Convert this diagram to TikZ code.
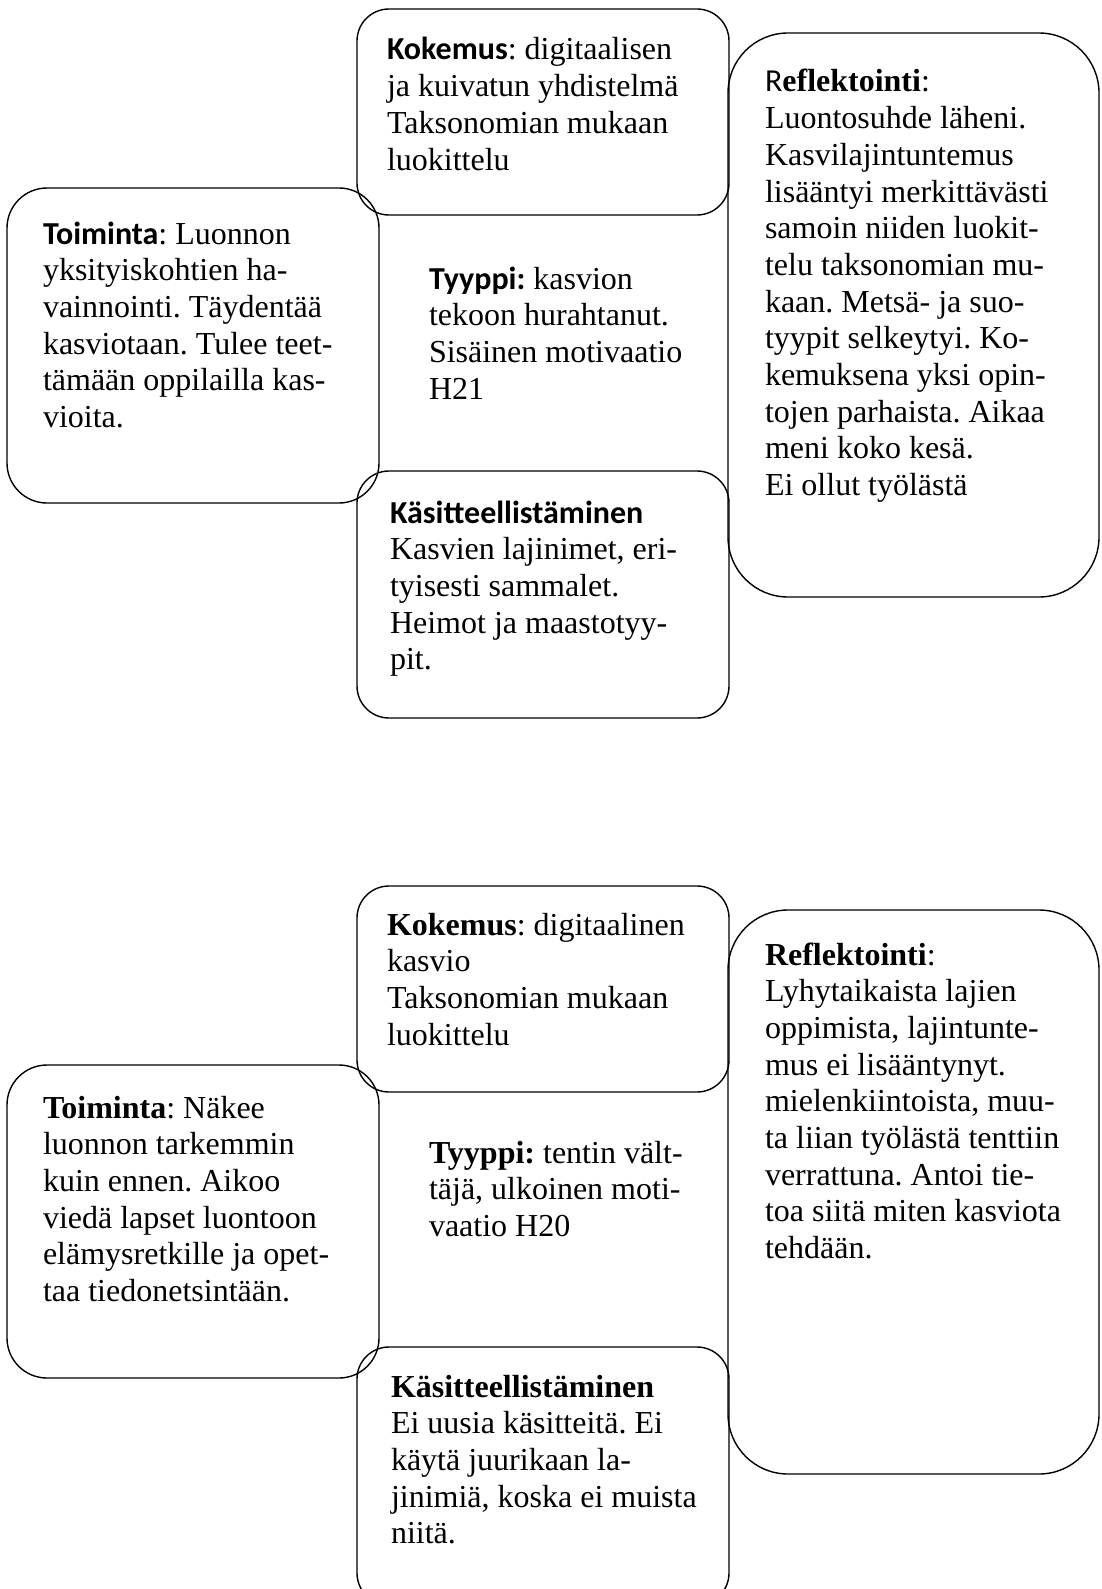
\documentclass[tikz,border=0pt]{standalone}
\usepackage{fontspec}
\setmainfont{Liberation Serif}
\newfontfamily\calib{Carlito}
\newcommand\hdc[1]{{\calib\bfseries #1}}
\newcommand\tbox[1]{\parbox[t]{345pt}{\raggedright\frenchspacing #1}}
\tikzset{
  box/.style={draw, line width=1.4pt, rectangle, inner sep=0pt, outer sep=0pt},
  bsmall/.style={box, rounded corners=32pt, minimum width=372pt},
  bmid/.style={box, rounded corners=40pt, minimum width=372pt},
  bbig/.style={box, rounded corners=60pt, minimum width=371pt, minimum height=564pt},
  txt/.style={anchor=base west, inner sep=0pt, outer sep=0pt, font=\fontsize{32}{36.7}\selectfont}
}
\begin{document}
\begin{tikzpicture}[x=1pt, y=-1pt]
\useasboundingbox (0,0) rectangle (1102,1589);
\clip (0,0) rectangle (1102,1589);
% ---------- upper diagram ----------
\node[bsmall, minimum height=206pt] (kok1) at (543,112) {};
\node[bmid, minimum height=315pt] (toi1) at (193,345.5) {};
\node[bsmall, minimum height=247pt] (kas1) at (543,594.5) {};
\node[bbig] (ref1) at (913.5,315) {};
\node[txt] (kok1t) at (387,60) {\tbox{\hdc{Kokemus}: digitaalisen\\ja kuivatun yhdistelmä\\Taksonomian mukaan\\luokittelu}};
\node[txt] (toi1t) at (43,244) {\tbox{\hdc{Toiminta}: Luonnon\\yksityiskohtien ha-\\vainnointi. Täydentää\\kasviotaan. Tulee teet-\\tämään oppilailla kas-\\vioita.}};
\node[txt] (typ1t) at (429,289) {\tbox{\hdc{Tyyppi:} kasvion\\tekoon hurahtanut.\\Sisäinen motivaatio\\H21}};
\node[txt] (kas1t) at (390,523) {\tbox{\hdc{Käsitteellistäminen}\\Kasvien lajinimet, eri-\\tyisesti sammalet.\\Heimot ja maastotyy-\\pit.}};
\node[txt] (ref1t) at (765,92) {\tbox{{\calib R}\textbf{eflektointi}:\\Luontosuhde läheni.\\Kasvilajintuntemus\\lisääntyi merkittävästi\\samoin niiden luokit-\\telu taksonomian mu-\\kaan. Metsä- ja suo-\\tyypit selkeytyi. Ko-\\kemuksena yksi opin-\\tojen parhaista. Aikaa\\meni koko kesä.\\Ei ollut työlästä}};
% ---------- lower diagram ----------
\node[bsmall, minimum height=206pt] (kok2) at (543,989) {};
\node[bmid, minimum height=313pt] (toi2) at (193,1221.5) {};
\node[bsmall, minimum height=258pt] (kas2) at (543,1476) {};
\node[bbig] (ref2) at (913.5,1192) {};
\node[txt] (kok2t) at (387,935) {\tbox{\textbf{Kokemus}: digitaalinen\\kasvio\\Taksonomian mukaan\\luokittelu}};
\node[txt] (toi2t) at (43,1118) {\tbox{\textbf{Toiminta}: Näkee\\luonnon tarkemmin\\kuin ennen. Aikoo\\viedä lapset luontoon\\elämysretkille ja opet-\\taa tiedonetsintään.}};
\node[txt] (typ2t) at (429,1163) {\tbox{\textbf{Tyyppi:} tentin vält-\\täjä, ulkoinen moti-\\vaatio H20}};
\node[txt] (kas2t) at (391,1397) {\tbox{\textbf{Käsitteellistäminen}\\Ei uusia käsitteitä. Ei\\käytä juurikaan la-\\jinimiä, koska ei muista\\niitä.}};
\node[txt] (ref2t) at (765,965) {\tbox{\textbf{Reflektointi}:\\Lyhytaikaista lajien\\oppimista, lajintunte-\\mus ei lisääntynyt.\\mielenkiintoista, muu-\\ta liian työlästä tenttiin\\verrattuna. Antoi tie-\\toa siitä miten kasviota\\tehdään.}};
\end{tikzpicture}
\end{document}
